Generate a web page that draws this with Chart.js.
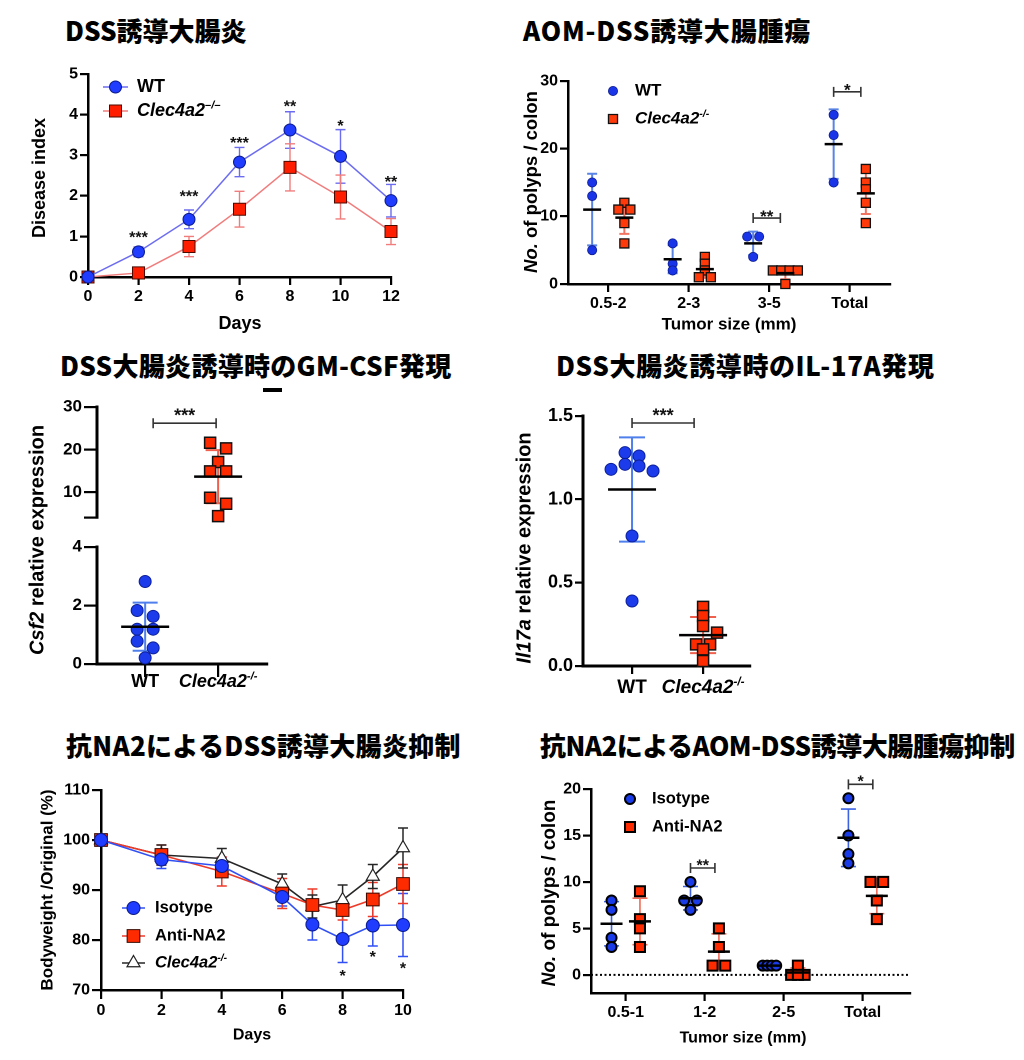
<!DOCTYPE html>
<html lang="ja">
<head>
<meta charset="utf-8">
<title>Clec4a2 colitis figures</title>
<script src="https://cdn.jsdelivr.net/npm/chart.js@4.4.1/dist/chart.umd.min.js"></script>
<style>
  html, body { margin: 0; padding: 0; background: #fff; }
  body { position: relative; width: 1024px; height: 1060px; overflow: hidden; }
  canvas { position: absolute; }
  .title { position: absolute; font-family: "Noto Sans CJK JP", sans-serif; font-weight: 900;
           font-size: 26px; line-height: 26px; white-space: nowrap; color: #000; }
  .dash { position: absolute; left: 263px; top: 388px; width: 19px; height: 4px; background: #000; }
</style>
</head>
<body>
<div class="title" style="left:65px; top:17px">DSS誘導大腸炎</div>
<div class="title" style="left:523px; top:17px; letter-spacing:0.8px">AOM-DSS誘導大腸腫瘍</div>
<div class="title" style="left:60px; top:352px; letter-spacing:0.3px">DSS大腸炎誘導時のGM-CSF発現</div>
<div class="title" style="left:556px; top:352px; letter-spacing:0.6px">DSS大腸炎誘導時のIL-17A発現</div>
<div class="title" style="left:66px; top:732px; letter-spacing:0.3px">抗NA2によるDSS誘導大腸炎抑制</div>
<div class="title" style="left:540px; top:732px; letter-spacing:-0.5px">抗NA2によるAOM-DSS誘導大腸腫瘍抑制</div>
<div class="dash"></div>
<script>
// ---------- data ----------
// DSS colitis, disease index (mean and SD per day)
const dssDays = [0, 2, 4, 6, 8, 10, 12];
const dssWT = [0, 0.62, 1.42, 2.83, 3.62, 2.97, 1.88];
const dssWTsd = [0, 0.12, 0.23, 0.36, 0.45, 0.66, 0.40];
const dssKO = [0, 0.10, 0.75, 1.67, 2.70, 1.97, 1.12];
const dssKOsd = [0, 0.12, 0.25, 0.44, 0.58, 0.54, 0.32];
const dssStars = ['', '***', '***', '***', '**', '*', '**'];
const dssStarAt = [0, 1.08, 2.09, 3.40, 4.31, 3.82, 2.45];
const dssTicksX = [0, 2, 4, 6, 8, 10, 12];
const dssTicksY = [0, 1, 2, 3, 4, 5];

// AOM-DSS, polyps per colon by tumour size
const aomSizes = ['0.5-2', '2-3', '3-5', 'Total'];
const aomWT = [[15, 13, 5], [6, 3, 2], [7, 7, 4], [25, 22, 15]];
const aomKO = [[12, 11, 11, 9, 6], [4, 3, 2, 1, 1], [2, 2, 2, 2, 0], [17, 15, 14, 12, 9]];
const aomSigCat = [2, 3];
const aomSigAt = [9.75, 28.4];
const aomSigText = ['**', '*'];
const aomTicksY = [0, 10, 20, 30];

// Csf2 relative expression (broken axis)
const exprGroups = ['WT', 'Clec4a2'];
const csfWT = [2.82, 1.83, 1.63, 1.19, 1.19, 0.78, 0.55, 0.21];
const csfKO = [21.6, 20.3, 17.1, 14.9, 14.9, 8.7, 7.3, 4.4];
const csfSigAt = 26.2;
const csfTicksLow = [0, 2, 4];
const csfTicksHigh = [4, 10, 20, 30];

// Il17a relative expression
const il17WT = [1.28, 1.26, 1.21, 1.20, 1.18, 1.17, 0.78, 0.39];
const il17KO = [0.355, 0.30, 0.24, 0.20, 0.13, 0.13, 0.10, 0.03];
const il17SigAt = 1.458;
const il17TicksY = [0, 0.5, 1.0, 1.5];

// anti-NA2, body weight (% of original)
const bwDays = [0, 2, 4, 6, 7, 8, 9, 10];
const bwIso = [100, 96.1, 94.8, 88.6, 83.1, 80.2, 82.9, 83.0];
const bwIsoSd = [0, 1.8, 1.7, 1.8, 3.1, 4.7, 4.1, 6.3];
const bwAnti = [100, 97.0, 93.7, 89.3, 87.0, 86.0, 88.1, 91.2];
const bwAntiSd = [0, 2.0, 2.9, 3.0, 3.2, 2.0, 3.4, 3.9];
const bwKO = [100, 97.0, 96.3, 91.2, 86.7, 88.0, 92.7, 98.4];
const bwKOSd = [0, 2.0, 2.0, 2.0, 2.3, 3.0, 2.4, 4.0];
const bwStarDays = [8, 9, 10];
const bwStarAt = [73.7, 77.5, 75.2];
const bwTicksX = [0, 2, 4, 6, 8, 10];
const bwTicksY = [70, 80, 90, 100, 110];

// anti-NA2, AOM-DSS polyps per colon
const naSizes = ['0.5-1', '1-2', '2-5', 'Total'];
const naIso = [[8, 7, 4, 3], [10, 8, 8, 7], [1, 1, 1, 1], [19, 15, 13, 12]];
const naAnti = [[9, 6, 5, 3], [5, 3, 1, 1], [1, 0, 0, 0], [10, 10, 8, 6]];
const naSigCat = [1, 3];
const naSigAt = [11.5, 20.5];
const naSigText = ['**', '*'];
const naTicksY = [0, 5, 10, 15, 20];

// ---------- helpers ----------
const FAM = '"Liberation Sans", Arial, sans-serif';
Chart.defaults.font.family = FAM;
Chart.defaults.color = '#000';

const mean = a => a.reduce((s, v) => s + v, 0) / a.length;
const sd = a => {
  const m = mean(a);
  return Math.sqrt(a.reduce((s, v) => s + (v - m) ** 2, 0) / (a.length - 1));
};

function richText(ctx, p, segs, size, align, rotate) {
  ctx.save();
  ctx.translate(p.x, p.y);
  if (rotate) ctx.rotate(-Math.PI / 2);
  ctx.textBaseline = 'middle';
  ctx.textAlign = 'left';
  ctx.fillStyle = '#000';
  const parts = segs.map(([t, st = '']) => {
    const sup = st.includes('s');
    const fs = sup ? size * 0.62 : size;
    const font = (st.includes('i') ? 'italic ' : '') + 'bold ' + fs + 'px ' + FAM;
    ctx.font = font;
    return { t, font, w: ctx.measureText(t).width, dy: sup ? -size * 0.3 : 0 };
  });
  const total = parts.reduce((s, q) => s + q.w, 0);
  let cx = align === 'center' ? -total / 2 : (align === 'right' ? -total : 0);
  parts.forEach(q => { ctx.font = q.font; ctx.fillText(q.t, cx, q.dy); cx += q.w; });
  ctx.restore();
}

function stars(ctx, x, yc, text, size) {
  ctx.save();
  ctx.font = 'bold ' + size + 'px ' + FAM;
  ctx.textAlign = 'center';
  ctx.textBaseline = 'alphabetic';
  ctx.fillStyle = '#111';
  ctx.fillText(text, x, yc + 0.58 * size);
  ctx.restore();
}

function bracket(ctx, x1, x2, y, text, size, gap) {
  ctx.save();
  ctx.strokeStyle = '#333';
  ctx.lineWidth = 1.6;
  ctx.beginPath();
  ctx.moveTo(x1, y); ctx.lineTo(x2, y);
  ctx.moveTo(x1, y - 5); ctx.lineTo(x1, y + 5);
  ctx.moveTo(x2, y - 5); ctx.lineTo(x2, y + 5);
  ctx.stroke();
  ctx.restore();
  stars(ctx, (x1 + x2) / 2, y - gap, text, size);
}

function marker(ctx, style, x, y, r, fill, stroke, lw) {
  ctx.save();
  ctx.beginPath();
  if (style === 'circle') {
    ctx.arc(x, y, r, 0, Math.PI * 2);
  } else if (style === 'rect') {
    const h = r * Math.SQRT1_2;
    ctx.rect(x - h, y - h, 2 * h, 2 * h);
  } else {
    for (let k = 0; k < 3; k++) {
      const a = k * 2 * Math.PI / 3;
      ctx[k ? 'lineTo' : 'moveTo'](x + Math.sin(a) * r, y - Math.cos(a) * r);
    }
    ctx.closePath();
  }
  ctx.fillStyle = fill;
  ctx.fill();
  if (lw) { ctx.lineWidth = lw; ctx.strokeStyle = stroke; ctx.stroke(); }
  ctx.restore();
}

function dsMarker(ctx, ds, x, y) {
  marker(ctx, ds.pointStyle, x, y, ds.pointRadius, ds.pointBackgroundColor, ds.pointBorderColor, ds.pointBorderWidth);
}

function legendLine(ctx, a, b, ds) {
  ctx.save();
  ctx.strokeStyle = ds.borderColor;
  ctx.lineWidth = ds.borderWidth;
  ctx.beginPath(); ctx.moveTo(a.x, a.y); ctx.lineTo(b.x, b.y); ctx.stroke();
  ctx.restore();
  dsMarker(ctx, ds, (a.x + b.x) / 2, a.y);
}

// mean +/- SD error bars of line series
const lineErrors = {
  id: 'lineErrors',
  beforeDatasetsDraw(chart) {
    const { ctx, scales: { x, y } } = chart;
    chart.data.datasets.forEach(ds => {
      if (!ds.errs) return;
      ctx.save();
      ctx.strokeStyle = ds.borderColor;
      ctx.lineWidth = ds.errWidth;
      ds.data.forEach((p, i) => {
        const e = ds.errs[i];
        if (!e) return;
        const px = x.getPixelForValue(p.x);
        const t = y.getPixelForValue(p.y + e), b = y.getPixelForValue(p.y - e), c = ds.cap;
        ctx.beginPath();
        ctx.moveTo(px, t); ctx.lineTo(px, b);
        ctx.moveTo(px - c, t); ctx.lineTo(px + c, t);
        ctx.moveTo(px - c, b); ctx.lineTo(px + c, b);
        ctx.stroke();
      });
      ctx.restore();
    });
  }
};

// mean line and SD bars of scatter groups
function eachGroup(chart, fn) {
  const { ctx, scales: { x, y } } = chart;
  chart.data.datasets.forEach(ds => {
    if (!ds.groups) return;
    ds.groups.forEach((vals, g) => {
      if (!vals.length) return;
      ctx.save();
      fn(ctx, ds, x.getPixelForValue(g + ds.shift), mean(vals), sd(vals), y);
      ctx.restore();
    });
  });
}
const groupStats = {
  id: 'groupStats',
  beforeDatasetsDraw(chart) {
    eachGroup(chart, (ctx, ds, cx, m, s, y) => {
      const t = y.getPixelForValue(m + s), b = y.getPixelForValue(m - s), c = ds.cap;
      ctx.strokeStyle = ds.errColor;
      ctx.lineWidth = ds.errWidth;
      ctx.beginPath();
      ctx.moveTo(cx, t); ctx.lineTo(cx, b);
      ctx.moveTo(cx - c, t); ctx.lineTo(cx + c, t);
      ctx.moveTo(cx - c, b); ctx.lineTo(cx + c, b);
      ctx.stroke();
    });
  },
  afterDatasetsDraw(chart) {
    eachGroup(chart, (ctx, ds, cx, m, s, y) => {
      const py = y.getPixelForValue(m);
      ctx.strokeStyle = '#000';
      ctx.lineWidth = ds.meanWidth;
      ctx.beginPath(); ctx.moveTo(cx - ds.meanHalf, py); ctx.lineTo(cx + ds.meanHalf, py); ctx.stroke();
    });
  }
};

// GraphPad-like column scatter: rows of near-equal values are spread sideways
function swarm(py, o) {
  const order = py.map((_, i) => i).sort((a, b) => py[a] - py[b]);
  const out = [], placed = [];
  const hits = (x, y) => placed.some(p => Math.hypot(p.x - x, p.y - y) < o.minDist);
  let i = 0;
  while (i < order.length) {
    let row = [order[i]];
    let j = i + 1;
    while (j < order.length && py[order[j]] - py[order[i]] < o.rowTol) row.push(order[j++]);
    const n = row.length;
    if (n > 1 && n % 2) {
      // lowest point of an odd row takes the middle slot
      const last = row.pop();
      row.splice((n - 1) / 2, 0, last);
    }
    const sp = n > 1 ? Math.min(o.step, o.maxSpread / (n - 1)) : o.step;
    let offs = [];
    for (let t = 0; t < 8; t++) {
      if (n === 1) offs = [t === 0 ? 0 : (t % 2 ? 1 : -1) * Math.ceil(t / 2) * sp];
      else offs = row.map((_, k) => { const b = (k - (n - 1) / 2) * sp; return b + Math.sign(b) * t * sp; });
      if (!row.some((id, k) => hits(offs[k], py[id]))) break;
    }
    row.forEach((id, k) => { out[id] = offs[k]; placed.push({ x: offs[k], y: py[id] }); });
    i = j;
  }
  return out;
}

function applySwarm(chart, o) {
  const xs = chart.scales.x, ys = chart.scales.y;
  chart.data.datasets.forEach(ds => {
    if (!ds.groups) return;
    const pts = [];
    ds.groups.forEach((vals, g) => {
      if (!vals.length) return;
      const cx = xs.getPixelForValue(g + ds.shift);
      const offs = swarm(vals.map(v => ys.getPixelForValue(v)), o);
      vals.forEach((v, k) => pts.push({ x: xs.getValueForPixel(cx + offs[k]), y: v }));
    });
    ds.data = pts;
  });
  chart.update('none');
}

const flat = (groups, shift) => groups.flatMap((vals, g) => vals.map(v => ({ x: g + shift, y: v })));

function axisOpts(min, max, ticks, size, tickLen, fmt, borderW) {
  return {
    type: 'linear', min, max,
    afterBuildTicks: s => { s.ticks = ticks.map(v => ({ value: v })); },
    grid: { drawOnChartArea: false, drawTicks: true, tickLength: tickLen, color: '#000', lineWidth: 2.2 },
    border: { display: true, color: '#000', width: borderW || 2.5 },
    ticks: {
      color: '#000', padding: 2, autoSkip: false, maxRotation: 0,
      font: { family: FAM, size, weight: 'bold' },
      callback: fmt || (v => v)
    }
  };
}

// canvas rect and plot box are page coordinates
function makeChart(cv, box, cfg, deco) {
  const c = document.createElement('canvas');
  const w = cv.r - cv.l, h = cv.b - cv.t;
  c.width = w; c.height = h;
  c.style.left = cv.l + 'px'; c.style.top = cv.t + 'px';
  c.style.width = w + 'px'; c.style.height = h + 'px';
  document.body.appendChild(c);
  const o = cfg.options;
  const xHidden = o.scales.x.display === false;
  Object.assign(o, {
    responsive: false, animation: false, devicePixelRatio: 2, events: [],
    layout: { padding: { top: box.t - cv.t, right: cv.r - box.r, left: 0, bottom: xHidden ? cv.b - box.b : 0 } }
  });
  o.scales.y.afterFit = s => { s.width = box.l - cv.l; };
  if (!xHidden) o.scales.x.afterFit = s => { s.height = cv.b - box.b; };
  o.plugins = { legend: { display: false }, tooltip: { enabled: false } };
  const pg = (x, y) => ({ x: x - cv.l, y: y - cv.t });
  cfg.plugins = [lineErrors, groupStats, {
    id: 'deco',
    beforeDatasetsDraw: ch => { if (deco.before) deco.before(ch.ctx, ch, pg); },
    afterDraw: ch => { if (deco.after) deco.after(ch.ctx, ch, pg); }
  }];
  return new Chart(c, cfg);
}

// ---------- panel 1: DSS disease index ----------
const wtLine = {
  data: dssDays.map((d, i) => ({ x: d, y: dssWT[i] })), errs: dssWTsd, cap: 5, errWidth: 1.4,
  borderColor: '#6c6cf0', borderWidth: 1.5, pointStyle: 'circle', pointRadius: 6,
  pointBackgroundColor: '#1f3cff', pointBorderColor: '#0b1a8a', pointBorderWidth: 1, clip: false
};
const koLine = {
  data: dssDays.map((d, i) => ({ x: d, y: dssKO[i] })), errs: dssKOsd, cap: 5, errWidth: 1.4,
  borderColor: '#f07c7c', borderWidth: 1.5, pointStyle: 'rect', pointRadius: 8.5,
  pointBackgroundColor: '#ff1f00', pointBorderColor: '#4a0a00', pointBorderWidth: 1, clip: false
};
makeChart({ l: 20, t: 60, r: 405, b: 340 }, { l: 88, t: 74, r: 391, b: 277 }, {
  type: 'line',
  data: { datasets: [wtLine, koLine] },
  options: { scales: {
    x: axisOpts(0, 12, dssTicksX, 16, 8),
    y: axisOpts(0, 5, dssTicksY, 16, 8)
  } }
}, { after(ctx, ch, pg) {
  const { x, y } = ch.scales;
  richText(ctx, pg(40, 178), [['Disease index']], 18, 'center', true);
  richText(ctx, pg(240, 324), [['Days']], 18, 'center');
  legendLine(ctx, pg(103, 87), pg(128, 87), wtLine);
  richText(ctx, pg(137, 87), [['WT']], 18, 'left');
  legendLine(ctx, pg(103, 111), pg(128, 111), koLine);
  richText(ctx, pg(137, 111), [['Clec4a2', 'i'], ['\u2013/\u2013', 'is']], 18, 'left');
  dssStars.forEach((s, i) => { if (s) stars(ctx, x.getPixelForValue(dssDays[i]), y.getPixelForValue(dssStarAt[i]), s, 16); });
} });

// ---------- panel 2: AOM-DSS polyps ----------
const aomWTds = {
  groups: aomWT, shift: -0.2, data: flat(aomWT, -0.2),
  pointStyle: 'circle', pointRadius: 4.6, pointBackgroundColor: '#1a35e8', pointBorderColor: '#0d1d90', pointBorderWidth: 0.8,
  errColor: '#5a83e6', errWidth: 2, cap: 5, meanHalf: 9, meanWidth: 2.5, clip: false
};
const aomKOds = {
  groups: aomKO, shift: 0.2, data: flat(aomKO, 0.2),
  pointStyle: 'rect', pointRadius: 6.4, pointBackgroundColor: '#ff3a0a', pointBorderColor: '#111', pointBorderWidth: 1.3,
  errColor: '#f27563', errWidth: 2, cap: 5, meanHalf: 9, meanWidth: 2.5, clip: false
};
const aomChart = makeChart({ l: 505, t: 62, r: 905, b: 340 }, { l: 568, t: 81, r: 890, b: 284 }, {
  type: 'scatter',
  data: { datasets: [aomWTds, aomKOds] },
  options: { scales: {
    x: axisOpts(-0.5, 3.5, [0, 1, 2, 3], 16, 8, v => aomSizes[v]),
    y: axisOpts(0, 30, aomTicksY, 16, 8)
  } }
}, { after(ctx, ch, pg) {
  const { x, y } = ch.scales;
  richText(ctx, pg(532, 182), [['No.', 'i'], [' of polyps / colon']], 18.5, 'center', true);
  richText(ctx, pg(729, 325), [['Tumor size (mm)']], 17, 'center');
  const a = pg(613, 91), b = pg(613, 119);
  dsMarker(ctx, aomWTds, a.x, a.y);
  richText(ctx, pg(635, 91), [['WT']], 17, 'left');
  dsMarker(ctx, aomKOds, b.x, b.y);
  richText(ctx, pg(635, 119), [['Clec4a2', 'i'], ['-/-', 'is']], 17, 'left');
  aomSigCat.forEach((c, k) => bracket(ctx, x.getPixelForValue(c - 0.2), x.getPixelForValue(c + 0.2) - 5,
    y.getPixelForValue(aomSigAt[k]), aomSigText[k], 17, 6));
} });
applySwarm(aomChart, { step: 12, maxSpread: 25, minDist: 6.5, rowTol: 5 });

// ---------- panel 3: Csf2 (broken y axis, two stacked charts) ----------
const csfKOds = {
  groups: [[], csfKO], shift: 0, data: flat([[], csfKO], 0),
  pointStyle: 'rect', pointRadius: 7.8, pointBackgroundColor: '#ff2b00', pointBorderColor: '#111', pointBorderWidth: 1.5,
  errColor: '#f0604d', errWidth: 2, cap: 12.5, meanHalf: 24, meanWidth: 2.5, clip: false
};
const csfWTds = {
  groups: [csfWT, []], shift: 0, data: flat([csfWT, []], 0),
  pointStyle: 'circle', pointRadius: 6, pointBackgroundColor: '#1c3ceb', pointBorderColor: '#0c1f99', pointBorderWidth: 1,
  errColor: '#4f7fec', errWidth: 2, cap: 12.5, meanHalf: 24, meanWidth: 2.5, clip: false
};
const csfHigh = makeChart({ l: 20, t: 385, r: 290, b: 530 }, { l: 97, t: 407, r: 267, b: 524 }, {
  type: 'scatter',
  data: { datasets: [csfKOds] },
  options: { scales: {
    x: Object.assign(axisOpts(-0.66, 1.67, [0, 1], 17, 13), { display: false }),
    y: axisOpts(4, 30, csfTicksHigh, 17, 13, v => (v === 4 ? '' : v), 3)
  } }
}, { after(ctx, ch) {
  const { x, y } = ch.scales;
  bracket(ctx, x.getPixelForValue(0) + 8, x.getPixelForValue(1) - 2, y.getPixelForValue(csfSigAt), '***', 18, 12);
} });
const csfLow = makeChart({ l: 20, t: 385, r: 290, b: 705 }, { l: 97, t: 547, r: 267, b: 664 }, {
  type: 'scatter',
  data: { datasets: [csfWTds] },
  options: { scales: {
    x: axisOpts(-0.66, 1.67, [0, 1], 17, 13, () => '', 3),
    y: axisOpts(0, 4, csfTicksLow, 17, 13, null, 3)
  } }
}, { after(ctx, ch, pg) {
  const { x } = ch.scales;
  richText(ctx, pg(38, 540), [['Csf2', 'i'], [' relative expression']], 20, 'center', true);
  richText(ctx, { x: x.getPixelForValue(0), y: pg(0, 682).y }, [[exprGroups[0]]], 18, 'center');
  richText(ctx, { x: x.getPixelForValue(1), y: pg(0, 682).y }, [[exprGroups[1], 'i'], ['-/-', 'is']], 18, 'center');
} });
applySwarm(csfHigh, { step: 16, maxSpread: 32, minDist: 9, rowTol: 7 });
applySwarm(csfLow, { step: 16, maxSpread: 32, minDist: 9, rowTol: 7 });

// ---------- panel 4: Il17a ----------
const il17WTds = Object.assign({}, csfWTds, { groups: [il17WT, []], data: flat([il17WT, []], 0), cap: 13 });
const il17KOds = Object.assign({}, csfKOds, { groups: [[], il17KO], data: flat([[], il17KO], 0), cap: 13 });
const il17Chart = makeChart({ l: 505, t: 395, r: 770, b: 705 }, { l: 583, t: 416, r: 750, b: 666 }, {
  type: 'scatter',
  data: { datasets: [il17WTds, il17KOds] },
  options: { scales: {
    x: axisOpts(-0.69, 1.66, [0, 1], 18, 8, () => '', 3),
    y: axisOpts(0, 1.5, il17TicksY, 18, 8, v => v.toFixed(1), 3)
  } }
}, { after(ctx, ch, pg) {
  const { x, y } = ch.scales;
  richText(ctx, pg(525, 548), [['Il17a', 'i'], [' relative expression']], 20, 'center', true);
  richText(ctx, { x: x.getPixelForValue(0), y: pg(0, 688).y }, [[exprGroups[0]]], 19, 'center');
  richText(ctx, { x: x.getPixelForValue(1), y: pg(0, 688).y }, [[exprGroups[1], 'i'], ['-/-', 'is']], 19, 'center');
  bracket(ctx, x.getPixelForValue(0), x.getPixelForValue(1) - 9, y.getPixelForValue(il17SigAt), '***', 18, 12);
} });
applySwarm(il17Chart, { step: 14, maxSpread: 42, minDist: 8.5, rowTol: 4.5 });

// ---------- panel 5: body weight ----------
const isoLine = {
  data: bwDays.map((d, i) => ({ x: d, y: bwIso[i] })), errs: bwIsoSd, cap: 5, errWidth: 1.5,
  borderColor: '#3050f5', borderWidth: 1.6, pointStyle: 'circle', pointRadius: 6.5,
  pointBackgroundColor: '#1f3cff', pointBorderColor: '#0b1a8a', pointBorderWidth: 1, clip: false
};
const antiLine = {
  data: bwDays.map((d, i) => ({ x: d, y: bwAnti[i] })), errs: bwAntiSd, cap: 5, errWidth: 1.5,
  borderColor: '#ee3a28', borderWidth: 1.6, pointStyle: 'rect', pointRadius: 9,
  pointBackgroundColor: '#ff2b00', pointBorderColor: '#3a0800', pointBorderWidth: 1, clip: false
};
const koBwLine = {
  data: bwDays.map((d, i) => ({ x: d, y: bwKO[i] })), errs: bwKOSd, cap: 5, errWidth: 1.5,
  borderColor: '#262626', borderWidth: 1.6, pointStyle: 'triangle', pointRadius: 7.5,
  pointBackgroundColor: '#ffffff', pointBorderColor: '#222', pointBorderWidth: 1.2, clip: false
};
makeChart({ l: 25, t: 775, r: 420, b: 1055 }, { l: 101, t: 790, r: 403, b: 990 }, {
  type: 'line',
  data: { datasets: [isoLine, antiLine, koBwLine] },
  options: { scales: {
    x: axisOpts(0, 10, bwTicksX, 16, 9),
    y: axisOpts(70, 110, bwTicksY, 16, 9)
  } }
}, { after(ctx, ch, pg) {
  const { x, y } = ch.scales;
  richText(ctx, pg(48, 890), [['Bodyweight /Original (%)']], 17, 'center', true);
  richText(ctx, pg(252, 1035), [['Days']], 16, 'center');
  legendLine(ctx, pg(122, 908), pg(145, 908), isoLine);
  richText(ctx, pg(155, 908), [['Isotype']], 16.5, 'left');
  legendLine(ctx, pg(122, 936), pg(145, 936), antiLine);
  richText(ctx, pg(155, 936), [['Anti-NA2']], 16.5, 'left');
  legendLine(ctx, pg(122, 963), pg(145, 963), koBwLine);
  richText(ctx, pg(155, 963), [['Clec4a2', 'i'], ['-/-', 'is']], 16.5, 'left');
  bwStarDays.forEach((d, k) => stars(ctx, x.getPixelForValue(d), y.getPixelForValue(bwStarAt[k]), '*', 16));
} });

// ---------- panel 6: anti-NA2 polyps ----------
const naIsoDs = {
  groups: naIso, shift: -0.18, data: flat(naIso, -0.18),
  pointStyle: 'circle', pointRadius: 5, pointBackgroundColor: '#1a3be8', pointBorderColor: '#000', pointBorderWidth: 2,
  errColor: '#3d63e3', errWidth: 1.6, cap: 7.5, meanHalf: 11, meanWidth: 2.5, clip: false
};
const naAntiDs = {
  groups: naAnti, shift: 0.18, data: flat(naAnti, 0.18),
  pointStyle: 'rect', pointRadius: 7.1, pointBackgroundColor: '#ff2b00', pointBorderColor: '#000', pointBorderWidth: 2,
  errColor: '#f06a57', errWidth: 1.6, cap: 7.5, meanHalf: 11, meanWidth: 2.5, clip: false
};
const naChart = makeChart({ l: 530, t: 770, r: 925, b: 1055 }, { l: 591, t: 789, r: 910, b: 993 }, {
  type: 'scatter',
  data: { datasets: [naIsoDs, naAntiDs] },
  options: { scales: {
    x: axisOpts(-0.44, 3.6, [0, 1, 2, 3], 16, 8, v => naSizes[v]),
    y: axisOpts(-1.95, 20, naTicksY, 16, 8)
  } }
}, {
  before(ctx, ch) {
    const { x, y } = ch.scales;
    const y0 = y.getPixelForValue(0);
    ctx.save();
    ctx.strokeStyle = '#000'; ctx.lineWidth = 2; ctx.setLineDash([2, 2.5]);
    ctx.beginPath(); ctx.moveTo(x.left, y0); ctx.lineTo(x.right, y0); ctx.stroke();
    ctx.restore();
  },
  after(ctx, ch, pg) {
    const { x, y } = ch.scales;
    richText(ctx, pg(550, 893), [['No.', 'i'], [' of polyps / colon']], 19, 'center', true);
    richText(ctx, pg(743, 1038), [['Tumor size (mm)']], 16, 'center');
    const a = pg(630, 799), b = pg(630, 827);
    dsMarker(ctx, naIsoDs, a.x, a.y);
    richText(ctx, pg(652, 799), [['Isotype']], 16.5, 'left');
    dsMarker(ctx, naAntiDs, b.x, b.y);
    richText(ctx, pg(652, 827), [['Anti-NA2']], 16.5, 'left');
    naSigCat.forEach((c, k) => bracket(ctx, x.getPixelForValue(c - 0.18), x.getPixelForValue(c + 0.18) - 4,
      y.getPixelForValue(naSigAt[k]), naSigText[k], 16, 7));
  }
});
applySwarm(naChart, { step: 12.7, maxSpread: 13.5, minDist: 7, rowTol: 4 });
</script>
</body>
</html>
